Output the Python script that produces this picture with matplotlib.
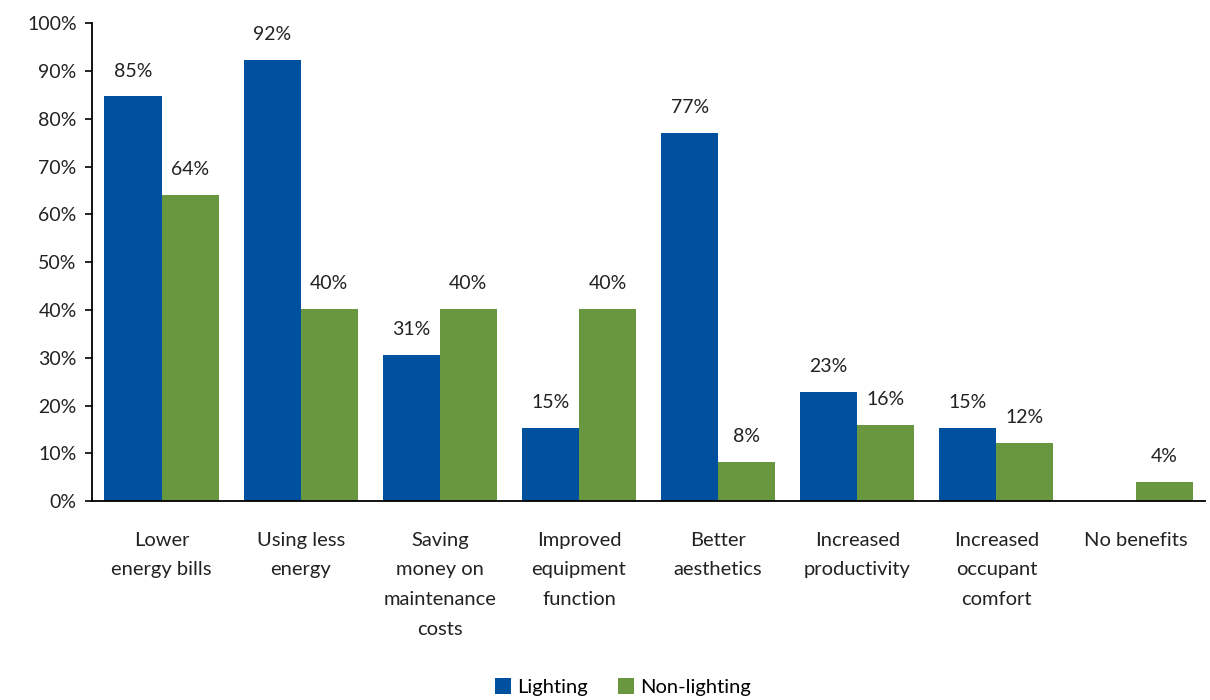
import matplotlib.pyplot as plt
import numpy as np

categories = ['Lower\nenergy bills', 'Using less\nenergy', 'Saving\nmoney on\nmaintenance\ncosts',
              'Improved\nequipment\nfunction', 'Better\naesthetics', 'Increased\nproductivity',
              'Increased\noccupant\ncomfort', 'No benefits']
lighting = [84.7, 92.3, 30.6, 15.4, 77.0, 22.9, 15.4, np.nan]
non_lighting = [64.0, 40.2, 40.2, 40.2, 8.2, 16.0, 12.2, 4.0]

plt.rcParams['font.family'] = ['Lato', 'DejaVu Sans']

fig = plt.figure(figsize=(12.1, 7), dpi=100)
ax = fig.add_axes([0.076, 0.284, 0.92, 0.683])

x = np.arange(len(categories))
w = 0.41
b1 = ax.bar(x - w / 2, lighting, w, color='#0050A0', label='Lighting')
b2 = ax.bar(x + w / 2, non_lighting, w, color='#68973F', label='Non-lighting')

# data labels
for bars, vals in [(b1, lighting), (b2, non_lighting)]:
    for rect, v in zip(bars, vals):
        if np.isnan(v):
            continue
        ax.text(rect.get_x() + rect.get_width() / 2, v + 3.5, f'{round(v)}%',
                ha='center', va='bottom', fontsize=14, color='#222222')

ax.set_xlim(-0.5, len(categories) - 0.5)
ax.set_ylim(0, 100)
ax.set_yticks(range(0, 101, 10))
ax.set_yticklabels([f'{t}%' for t in range(0, 101, 10)], fontsize=14, color='#222222')
ax.set_xticks(x)
ax.set_xticklabels(categories, fontsize=14.5, color='#222222', linespacing=1.9, va='top')
ax.tick_params(axis='x', length=0, pad=22)
ax.tick_params(axis='y', length=5, width=1.2, pad=6)

for s in ['top', 'right']:
    ax.spines[s].set_visible(False)
ax.spines['left'].set_linewidth(1.3)
ax.spines['bottom'].set_linewidth(1.3)

fig.legend(loc='lower center', bbox_to_anchor=(0.515, -0.02), ncol=2, frameon=False,
           fontsize=14.5, handlelength=0.8, handleheight=0.8, handletextpad=0.3, columnspacing=1.5)

fig.savefig('out.png', dpi=100)
